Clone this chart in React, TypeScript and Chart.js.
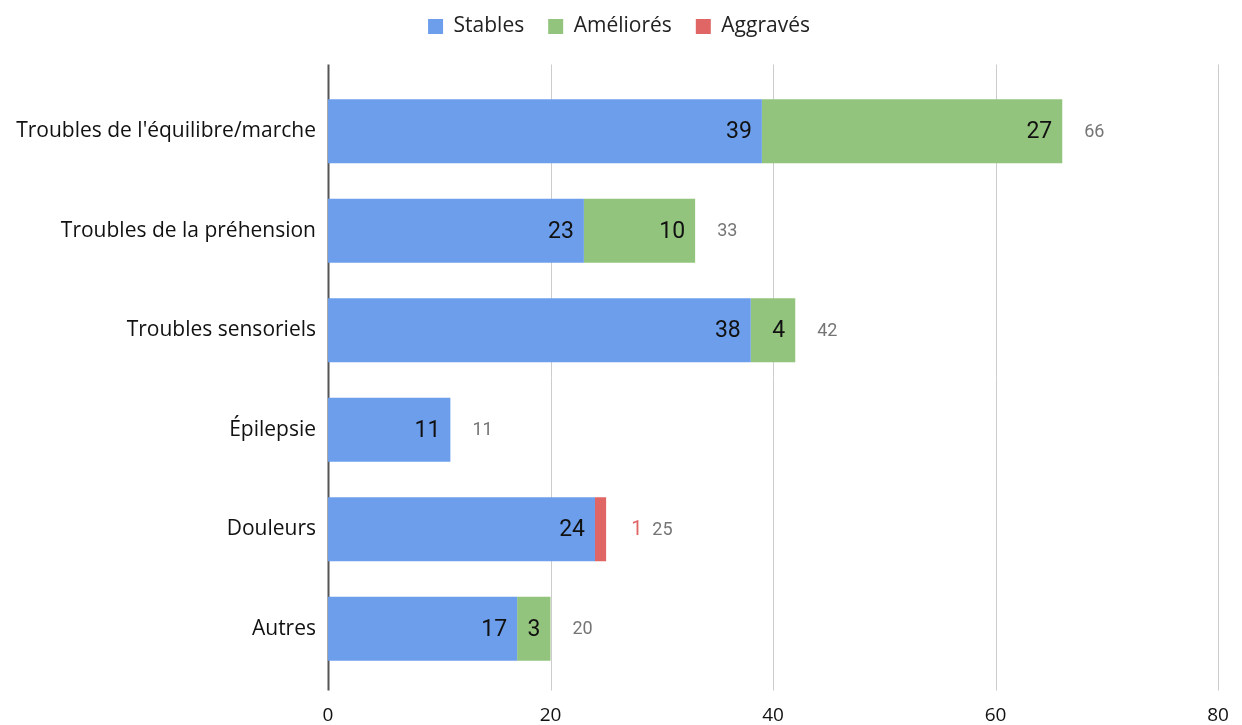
import React, { useEffect, useRef } from "react";
import { Chart, registerables } from "chart.js";

Chart.register(...registerables);

const categories = [
  "Troubles de l'équilibre/marche",
  "Troubles de la préhension",
  "Troubles sensoriels",
  "Épilepsie",
  "Douleurs",
  "Autres",
];
const seriesNames = ["Stables", "Améliorés", "Aggravés"];
const stables = [39, 23, 38, 11, 24, 17];
const ameliores = [27, 10, 4, 0, 0, 3];
const aggraves = [0, 0, 0, 0, 1, 0];
const seriesColors = ["#6d9eeb", "#93c47d", "#e06666"];
const xTicks = [0, 20, 40, 60, 80];

const gridPlugin = {
  id: "customGrid",
  beforeDatasetsDraw(chart: any) {
    const { ctx, chartArea, scales } = chart;
    const x = scales.x;
    ctx.save();
    x.ticks.forEach((t: any) => {
      const px = Math.round(x.getPixelForValue(t.value)) + 0.5;
      ctx.beginPath();
      if (t.value === 0) {
        ctx.strokeStyle = "#555555";
        ctx.lineWidth = 2;
      } else {
        ctx.strokeStyle = "#cccccc";
        ctx.lineWidth = 1;
      }
      ctx.moveTo(px, chartArea.top - 17);
      ctx.lineTo(px, chartArea.bottom + 12);
      ctx.stroke();
    });
    ctx.restore();
  },
};

const labelPlugin = {
  id: "customLabels",
  afterDatasetsDraw(chart: any) {
    const { ctx } = chart;
    ctx.save();
    ctx.textBaseline = "middle";
    const n = categories.length;
    for (let i = 0; i < n; i++) {
      let end = 0;
      let y = 0;
      let outsideRight = -1;
      let total = 0;
      chart.data.datasets.forEach((ds: any, di: number) => {
        const meta = chart.getDatasetMeta(di);
        const el: any = meta.data[i];
        const v = ds.data[i];
        if (!el) return;
        y = el.y;
        if (v > 0) {
          total += v;
          end = Math.max(end, el.x);
        }
      });
      chart.data.datasets.forEach((ds: any, di: number) => {
        const meta = chart.getDatasetMeta(di);
        const el: any = meta.data[i];
        const v = ds.data[i];
        if (!el || !(v > 0)) return;
        const w = el.x - el.base;
        ctx.font = "23px Roboto";
        const tw = ctx.measureText(String(v)).width;
        if (w >= tw + 18) {
          ctx.fillStyle = "#111111";
          ctx.textAlign = "right";
          ctx.fillText(String(v), el.x - 10, el.y + 1);
        } else {
          ctx.font = "20px Roboto";
          ctx.fillStyle = ds.backgroundColor;
          ctx.textAlign = "left";
          const sx = end + 25;
          ctx.fillText(String(v), sx, el.y + 1);
          outsideRight = sx + ctx.measureText(String(v)).width;
        }
      });
      ctx.font = "18px Roboto";
      ctx.fillStyle = "#757575";
      ctx.textAlign = "left";
      const tx = outsideRight > 0 ? outsideRight + 10 : end + 22;
      ctx.fillText(String(total), tx, y + 1);
    }
    ctx.restore();
  },
};

const legendFitPlugin = {
  id: "legendFit",
  beforeInit(chart: any) {
    const lg = chart.legend;
    if (!lg) return;
    const orig = lg.fit;
    lg.fit = function () {
      orig.call(this);
      this.height = 89.5;
    };
  },
  afterLayout(chart: any) {
    const lg = chart.legend;
    if (!lg) return;
    lg.left += 10;
    lg.right += 10;
  },
};

export default function App() {
  const ref = useRef<HTMLCanvasElement | null>(null);
  useEffect(() => {
    if (!ref.current) return;
    const chart = new Chart(ref.current, {
      type: "bar",
      data: {
        labels: categories,
        datasets: [stables, ameliores, aggraves].map((d, i) => ({
          label: seriesNames[i],
          data: d,
          backgroundColor: seriesColors[i],
          borderWidth: 0,
          barPercentage: 0.643,
          categoryPercentage: 1,
        })),
      },
      options: {
        indexAxis: "y",
        animation: false,
        responsive: true,
        maintainAspectRatio: false,
        layout: { padding: { top: -8, right: 24, left: 0, bottom: 0 } },
        plugins: {
          legend: {
            position: "top",
            align: "center",
            labels: {
              boxWidth: 15,
              boxHeight: 15,
              padding: 24,
              color: "#222222",
              font: { family: "'Open Sans'", size: 21 },
            },
          },
          tooltip: { enabled: false },
        },
        scales: {
          x: {
            stacked: true,
            min: 0,
            max: 80,
            afterBuildTicks: (s: any) => {
              s.ticks = xTicks.map((v) => ({ value: v }));
            },
            grid: { display: false },
            border: { display: false },
            ticks: {
              padding: 18,
              color: "#111111",
              font: { family: "'Open Sans'", size: 19 },
            },
            afterFit: (s: any) => {
              s.height = 46.5;
              s.paddingLeft = 0;
              s.paddingRight = 0;
            },
          },
          y: {
            stacked: true,
            grid: { display: false },
            border: { display: false },
            ticks: {
              padding: 4,
              color: "#111111",
              font: { family: "'Open Sans'", size: 21 },
            },
            afterFit: (s: any) => {
              s.width = 328;
              s.paddingTop = 0;
              s.paddingBottom = 0;
            },
          },
        },
      },
      plugins: [gridPlugin, labelPlugin, legendFitPlugin],
    } as any);
    return () => chart.destroy();
  }, []);
  return (
    <div style={{ position: "fixed", left: 0, top: 0, width: 1242, height: 725, background: "#ffffff" }}>
      <canvas ref={ref} />
    </div>
  );
}
